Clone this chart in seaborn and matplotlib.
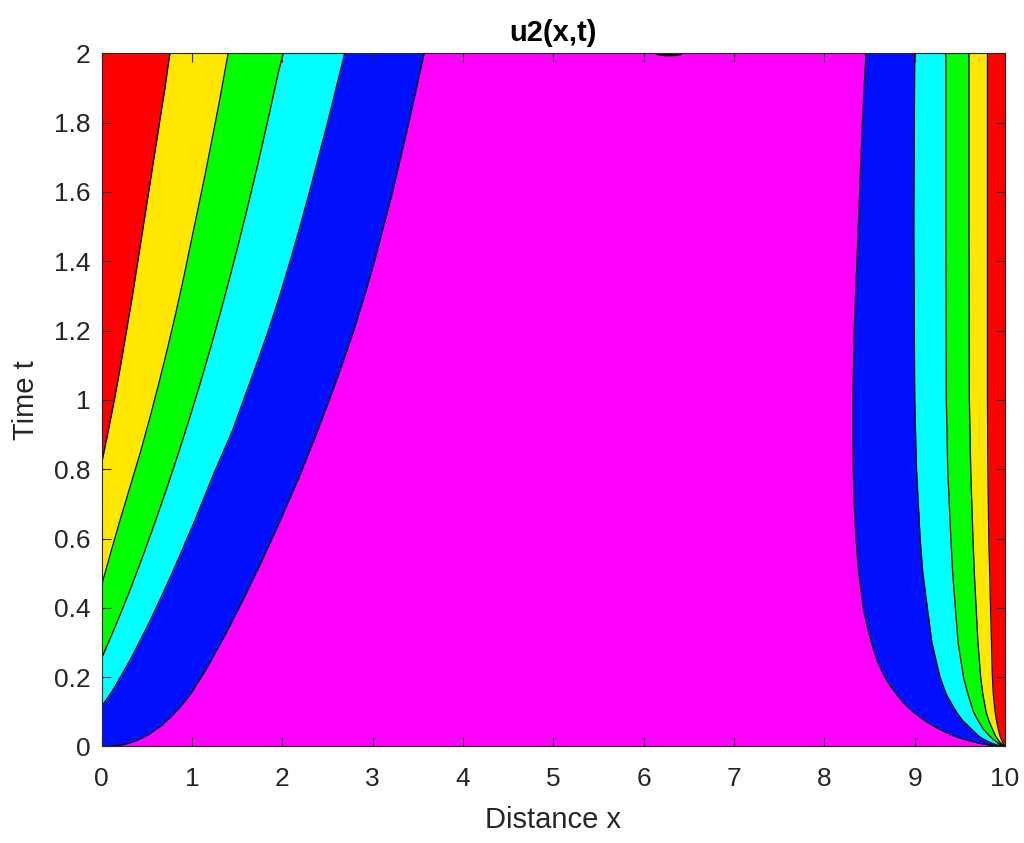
import numpy as np
import matplotlib
matplotlib.use("Agg")
import matplotlib.pyplot as plt
import seaborn as sns

# ---------------- data ----------------
X_DOMAIN = [0, 10]
T_DOMAIN = [0, 2]

# contour levels, outermost (blue/magenta) to innermost (red/yellow)
LEVEL_COLORS = ["#0010ff", "#00ffff", "#00ff00", "#ffe800", "#ff0000"]
BACKGROUND_COLOR = "#ff00ff"

# left-hand contour lines: time samples and x positions
LEFT_T = [
    [0.0, 0.0005, 0.0015, 0.006, 0.015, 0.033, 0.06, 0.086, 0.12, 0.154, 0.23, 0.33, 0.43,
     0.53, 0.65, 0.78, 0.9, 1.0, 1.1, 1.2, 1.3, 1.4, 1.5, 1.6, 1.7, 1.8, 1.9, 2.0],
    [0.115, 0.163, 0.25, 0.356, 0.447, 0.52, 0.654, 0.788, 0.913, 1.0, 1.1, 1.2, 1.3,
     1.4, 1.5, 1.6, 1.7, 1.8, 1.9, 2.0],
    [0.255, 0.35, 0.45, 0.55, 0.65, 0.75, 0.85, 0.95, 1.05, 1.15, 1.25, 1.35, 1.45,
     1.55, 1.65, 1.75, 1.85, 1.95, 2.0],
    [0.466, 0.55, 0.65, 0.75, 0.85, 0.95, 1.05, 1.15, 1.25, 1.35, 1.45, 1.55, 1.65,
     1.75, 1.85, 1.95, 2.0],
    [0.818, 0.9, 1.0, 1.1, 1.2, 1.3, 1.4, 1.5, 1.6, 1.7, 1.8, 1.9, 2.0],
]
LEFT_X = [
    [0.06, 0.10, 0.14, 0.254, 0.37, 0.512, 0.66, 0.77, 0.89, 0.991, 1.173, 1.383, 1.578,
     1.763, 1.973, 2.19, 2.374, 2.52, 2.66, 2.79, 2.91, 3.02, 3.12, 3.22, 3.31, 3.40,
     3.485, 3.57],
    [0.0, 0.125, 0.316, 0.523, 0.687, 0.813, 1.034, 1.242, 1.45, 1.57, 1.71, 1.845, 1.97,
     2.085, 2.195, 2.30, 2.40, 2.50, 2.595, 2.69],
    [0.0, 0.157, 0.312, 0.457, 0.595, 0.727, 0.854, 0.976, 1.093, 1.205, 1.312, 1.415,
     1.514, 1.609, 1.701, 1.79, 1.876, 1.96, 2.01],
    [0.0, 0.09, 0.20, 0.315, 0.43, 0.535, 0.635, 0.73, 0.82, 0.905, 0.985, 1.065, 1.145,
     1.22, 1.295, 1.365, 1.40],
    [0.0, 0.065, 0.14, 0.21, 0.275, 0.34, 0.40, 0.46, 0.52, 0.58, 0.64, 0.70, 0.755],
]

# right-hand contour lines
RIGHT_T = [
    [0.0, 0.002, 0.005, 0.01, 0.02, 0.03, 0.04, 0.05, 0.065, 0.08, 0.1, 0.125, 0.15,
     0.175, 0.2, 0.25, 0.3, 0.35, 0.4, 0.5, 0.6, 0.7, 0.8, 0.9, 1.0, 1.2, 1.4, 1.6,
     1.8, 2.0],
    [0.0, 0.002, 0.005, 0.01, 0.02, 0.03, 0.05, 0.075, 0.1, 0.15, 0.2, 0.3, 0.4, 0.5,
     0.6, 0.8, 1.0, 1.5, 2.0],
    [0.0, 0.002, 0.005, 0.01, 0.02, 0.03, 0.05, 0.075, 0.1, 0.15, 0.2, 0.3, 0.4, 0.5,
     0.6, 0.8, 1.0, 1.5, 2.0],
    [0.0, 0.002, 0.005, 0.01, 0.02, 0.03, 0.05, 0.075, 0.1, 0.15, 0.2, 0.3, 0.4, 0.5,
     0.6, 0.8, 1.0, 1.5, 2.0],
    [0.0, 0.002, 0.005, 0.01, 0.02, 0.03, 0.05, 0.075, 0.1, 0.15, 0.2, 0.3, 0.4, 0.5,
     0.6, 0.8, 1.0, 1.5, 2.0],
]
RIGHT_X = [
    [10.0, 9.90, 9.80, 9.70, 9.55, 9.44, 9.35, 9.27, 9.17, 9.08, 8.98, 8.88, 8.80, 8.73,
     8.67, 8.58, 8.52, 8.47, 8.43, 8.38, 8.35, 8.33, 8.32, 8.315, 8.315, 8.33, 8.36,
     8.39, 8.42, 8.46],
    [10.0, 9.95, 9.90, 9.85, 9.77, 9.71, 9.63, 9.53, 9.46, 9.35, 9.28, 9.19, 9.14, 9.09,
     9.06, 9.02, 9.00, 8.99, 9.00],
    [10.0, 9.975, 9.95, 9.92, 9.87, 9.83, 9.76, 9.70, 9.65, 9.59, 9.54, 9.48, 9.45, 9.42,
     9.40, 9.365, 9.35, 9.345, 9.345],
    [10.0, 9.985, 9.97, 9.95, 9.92, 9.895, 9.86, 9.82, 9.79, 9.755, 9.73, 9.70, 9.68,
     9.66, 9.645, 9.62, 9.605, 9.60, 9.60],
    [10.0, 9.993, 9.985, 9.975, 9.96, 9.945, 9.925, 9.905, 9.89, 9.87, 9.86, 9.85, 9.84,
     9.83, 9.82, 9.81, 9.805, 9.805, 9.805],
]

# tiny closed contour touching the top edge
ARC_X = [6.10, 6.16, 6.22, 6.28, 6.34, 6.40, 6.46]
ARC_T = [2.006, 1.9975, 1.9950, 1.9945, 1.9950, 1.9975, 2.006]

X_TICKS = [0, 1, 2, 3, 4, 5, 6, 7, 8, 9, 10]
T_TICKS = [0, 0.2, 0.4, 0.6, 0.8, 1, 1.2, 1.4, 1.6, 1.8, 2]
T_TICK_LABELS = ["0", "0.2", "0.4", "0.6", "0.8", "1", "1.2", "1.4", "1.6", "1.8", "2"]

TITLE = "u2(x,t)"
XLABEL = "Distance x"
YLABEL = "Time t"

# ---------------- style ----------------
sns.set_theme(style="white")
plt.rcParams["font.family"] = ["Liberation Sans", "DejaVu Sans"]
TEXT_COLOR = "#262626"

fig = plt.figure(figsize=(10.24, 8.43), dpi=100)
ax = fig.add_axes([0.0993, 0.1145, 0.8822, 0.8222])

# background region
ax.fill_between(X_DOMAIN, [T_DOMAIN[0]] * 2, [T_DOMAIN[1]] * 2,
                color=BACKGROUND_COLOR, lw=0, zorder=1)

# left bands (nested, painted outermost first)
for t, x, c in zip(LEFT_T, LEFT_X, LEVEL_COLORS):
    ax.fill_betweenx(t, X_DOMAIN[0], x, color=c, lw=0, zorder=2)
# right bands
for t, x, c in zip(RIGHT_T, RIGHT_X, LEVEL_COLORS):
    ax.fill_betweenx(t, x, X_DOMAIN[1], color=c, lw=0, zorder=2)

# contour lines
for t, x in list(zip(LEFT_T, LEFT_X)) + list(zip(RIGHT_T, RIGHT_X)):
    sns.lineplot(x=x, y=t, sort=False, estimator=None, color="black",
                 lw=0.9, ax=ax, zorder=3)

# small red cap at the top
ax.fill_between(ARC_X, ARC_T, T_DOMAIN[1] + 0.01, color=LEVEL_COLORS[-1], lw=0, zorder=2)
sns.lineplot(x=ARC_X, y=ARC_T, sort=False, estimator=None, color="black",
             lw=1.6, ax=ax, zorder=3)

ax.set_xlim(X_DOMAIN)
ax.set_ylim(T_DOMAIN)
ax.set_xticks(X_TICKS)
ax.set_xticklabels([str(v) for v in X_TICKS])
ax.set_yticks(T_TICKS)
ax.set_yticklabels(T_TICK_LABELS)

ax.set_axisbelow(False)
ax.xaxis.set_zorder(4)
ax.yaxis.set_zorder(4)
ax.tick_params(axis="both", direction="in", length=6.5, width=0.8,
               colors=TEXT_COLOR, labelsize=19, top=True, right=True,
               bottom=True, left=True, labeltop=False, labelright=False)
ax.tick_params(axis="x", pad=14.5)
ax.tick_params(axis="y", pad=8)
for s in ax.spines.values():
    s.set_color(TEXT_COLOR)
    s.set_linewidth(0.8)
    s.set_visible(True)
    s.set_zorder(5)

ax.set_title(TITLE, fontsize=21, fontweight="bold", color="#000000", pad=9)
ax.set_xlabel(XLABEL, fontsize=21, color=TEXT_COLOR, labelpad=11)
ax.set_ylabel(YLABEL, fontsize=21, color=TEXT_COLOR, labelpad=10)

fig.savefig("out.png", dpi=100, facecolor="white")
